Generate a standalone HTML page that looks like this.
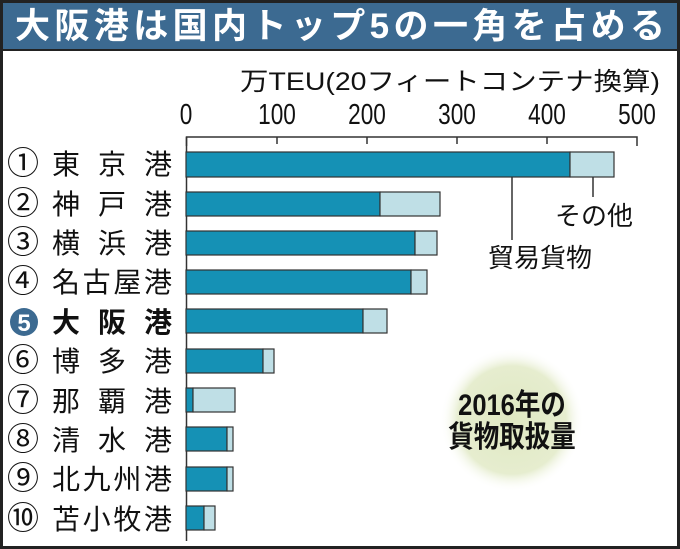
<!DOCTYPE html>
<html><head><meta charset="utf-8"><style>
html,body{margin:0;padding:0;background:#fff}
svg{display:block}
text{font-family:"Liberation Sans","Noto Sans CJK JP",sans-serif}
</style></head><body>
<svg width="680" height="549" viewBox="0 0 680 549" xmlns="http://www.w3.org/2000/svg">
<defs>
<radialGradient id="g" cx="0.5" cy="0.5" r="0.5">
<stop offset="0" stop-color="#dfe8c2"/><stop offset="0.75" stop-color="#e6edcf"/><stop offset="1" stop-color="#fff" stop-opacity="0"/>
</radialGradient>
</defs>
<rect x="0" y="0" width="680" height="549" fill="#fff"/>
<rect x="0" y="0" width="680" height="50" fill="#3c6a91"/>
<text x="340" y="38" font-size="35" font-weight="bold" fill="#fff" text-anchor="middle" textLength="650">大阪港は国内トップ5の一角を占める</text>
<rect x="1.5" y="1.5" width="677" height="546" fill="none" stroke="#222" stroke-width="3"/>
<line x1="0" y1="50" x2="680" y2="50" stroke="#222" stroke-width="2"/>
<text x="660" y="90" font-size="25" text-anchor="end" fill="#111" textLength="420" lengthAdjust="spacingAndGlyphs">万TEU(20フィートコンテナ換算)</text>
<g font-size="29" fill="#111" text-anchor="middle">
<text transform="translate(186 124) scale(0.78 1)">0</text>
<text transform="translate(277 124) scale(0.78 1)">100</text>
<text transform="translate(367 124) scale(0.78 1)">200</text>
<text transform="translate(457 124) scale(0.78 1)">300</text>
<text transform="translate(547 124) scale(0.78 1)">400</text>
<text transform="translate(637 124) scale(0.78 1)">500</text>
</g>
<g stroke="#333" stroke-width="1.5" fill="none">
<path d="M186.5 146 V137 H637 V146"/>
<line x1="277" y1="137" x2="277" y2="144"/><line x1="367" y1="137" x2="367" y2="144"/><line x1="457" y1="137" x2="457" y2="144"/><line x1="547" y1="137" x2="547" y2="144"/>
<line x1="186.5" y1="137" x2="186.5" y2="541"/>
</g>
<circle cx="512" cy="420" r="72" fill="url(#g)"/>
<text transform="translate(512 415) scale(0.85 1)" font-size="30" font-weight="bold" text-anchor="middle" fill="#111">2016年の</text>
<text transform="translate(512 447) scale(0.85 1)" font-size="30" font-weight="bold" text-anchor="middle" fill="#111">貨物取扱量</text>
<g stroke="#333" stroke-width="1.2">
<rect x="186" y="152" width="384" height="25" fill="#1591b5"/><rect x="570" y="152" width="44" height="25" fill="#bfdfe6"/>
<rect x="186" y="192" width="194" height="24" fill="#1591b5"/><rect x="380" y="192" width="60" height="24" fill="#bfdfe6"/>
<rect x="186" y="231" width="229" height="24" fill="#1591b5"/><rect x="415" y="231" width="22" height="24" fill="#bfdfe6"/>
<rect x="186" y="270" width="225" height="24" fill="#1591b5"/><rect x="411" y="270" width="16" height="24" fill="#bfdfe6"/>
<rect x="186" y="309" width="177" height="24" fill="#1591b5"/><rect x="363" y="309" width="24" height="24" fill="#bfdfe6"/>
<rect x="186" y="349" width="77" height="24" fill="#1591b5"/><rect x="263" y="349" width="11" height="24" fill="#bfdfe6"/>
<rect x="186" y="388" width="7" height="24" fill="#1591b5"/><rect x="193" y="388" width="42" height="24" fill="#bfdfe6"/>
<rect x="186" y="427" width="41" height="24" fill="#1591b5"/><rect x="227" y="427" width="6" height="24" fill="#bfdfe6"/>
<rect x="186" y="467" width="41" height="24" fill="#1591b5"/><rect x="227" y="467" width="6" height="24" fill="#bfdfe6"/>
<rect x="186" y="506" width="18" height="24" fill="#1591b5"/><rect x="204" y="506" width="11" height="24" fill="#bfdfe6"/>
</g>
<line x1="512" y1="177" x2="512" y2="240" stroke="#333" stroke-width="1.5"/>
<line x1="593" y1="177" x2="593" y2="197" stroke="#333" stroke-width="1.5"/>
<text x="594" y="225" font-size="26" text-anchor="middle" fill="#111">その他</text>
<text x="540" y="267" font-size="26" text-anchor="middle" fill="#111">貿易貨物</text>
<g font-size="28" fill="#111">
<text x="7" y="174" font-size="32">①</text><text x="52" y="174" textLength="120">東 京 港</text>
<text x="7" y="214" font-size="32">②</text><text x="52" y="214" textLength="120">神 戸 港</text>
<text x="7" y="253" font-size="32">③</text><text x="52" y="253" textLength="120">横 浜 港</text>
<text x="7" y="292" font-size="32">④</text><text x="52" y="292" textLength="120">名古屋港</text>
<circle cx="24" cy="322" r="14" fill="#3c6a91"/><text x="24" y="331" font-size="24" font-weight="bold" fill="#fff" text-anchor="middle">5</text>
<text x="52" y="332" textLength="120" font-weight="bold">大 阪 港</text>
<text x="7" y="371" font-size="32">⑥</text><text x="52" y="371" textLength="120">博 多 港</text>
<text x="7" y="411" font-size="32">⑦</text><text x="52" y="411" textLength="120">那 覇 港</text>
<text x="7" y="450" font-size="32">⑧</text><text x="52" y="450" textLength="120">清 水 港</text>
<text x="7" y="489" font-size="32">⑨</text><text x="52" y="489" textLength="120">北九州港</text>
<text x="7" y="529" font-size="32">⑩</text><text x="52" y="529" textLength="120">苫小牧港</text>
</g>
</svg>
</body></html>
